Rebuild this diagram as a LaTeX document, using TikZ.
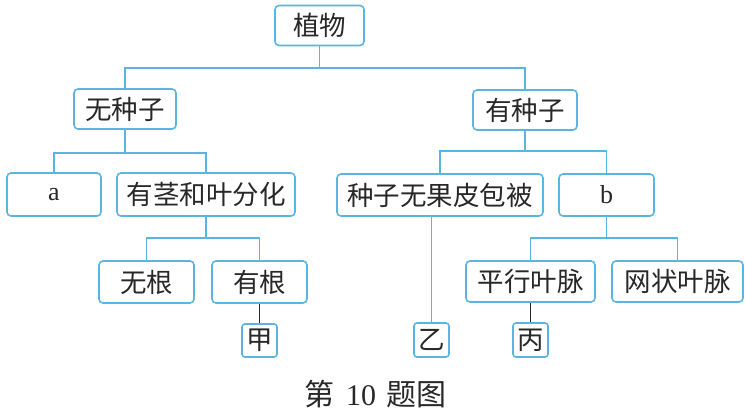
\documentclass[tikz,border=0pt]{standalone}
\usepackage{fontspec}
\setmainfont{Liberation Serif}
\newfontfamily\cjk{Noto Sans CJK SC}
\definecolor{lblue}{RGB}{90,182,224}
\definecolor{ink}{RGB}{40,40,40}
\tikzset{
  box/.style={draw=lblue, line width=1.6pt, rounded corners=4pt, fill=white, text=ink,
    inner sep=0pt, font=\cjk\fontsize{26.5}{28}\selectfont},
  latin/.style={font=\rmfamily\fontsize{26}{28}\selectfont},
  conn/.style={draw=lblue, line width=1.6pt},
  darkconn/.style={draw=ink, line width=1.3pt},
}
\begin{document}
\begin{tikzpicture}[x=1pt,y=-1pt]
\useasboundingbox (0,0) rectangle (746,413);
% nodes
\node[box, minimum width=89pt, minimum height=40pt] (zw) at (319.5,25.5) {植物};
\node[box, minimum width=102pt, minimum height=40pt] (wzz) at (125,109) {无种子};
\node[box, minimum width=104pt, minimum height=40pt] (yzz) at (525,110) {有种子};
\node[box, latin, minimum width=94pt, minimum height=43pt] (a) at (54,194.5) {a};
\node[box, minimum width=178pt, minimum height=43pt] (yj) at (206,194.5) {有茎和叶分化};
\node[box, minimum width=206pt, minimum height=42pt] (zz) at (440,195) {种子无果皮包被};
\node[box, latin, minimum width=95pt, minimum height=42pt] (b) at (606.5,195) {b};
\node[box, minimum width=95pt, minimum height=42pt] (wg) at (146.5,282) {无根};
\node[box, minimum width=95pt, minimum height=42pt] (yg) at (259.5,282) {有根};
\node[box, minimum width=129pt, minimum height=41pt] (px) at (530.5,281.5) {平行叶脉};
\node[box, minimum width=131pt, minimum height=41pt] (wx) at (677.5,281.5) {网状叶脉};
\node[box, minimum width=35pt, minimum height=33pt, rounded corners=3pt] (jia) at (259.5,340.5) {甲};
\node[box, minimum width=35pt, minimum height=34pt, rounded corners=3pt] (yi) at (431.5,340) {乙};
\node[box, minimum width=35pt, minimum height=34pt, rounded corners=3pt] (bing) at (530.5,340) {丙};
\node[text=ink, inner sep=0pt, font=\fontsize{30}{32}\selectfont] (cap) at (375,394) {{\cjk 第}\hspace{12pt}10\hspace{10pt}{\cjk 题图}};
% connectors
\coordinate (l1) at (0,68);
\coordinate (l2) at (0,153);
\coordinate (l3) at (0,151);
\coordinate (l4) at (0,238);
\draw[conn] (zw.south) -- (zw.south |- l1);
\draw[conn] (wzz.north) -- (wzz.north |- l1) -- (yzz.north |- l1) -- (yzz.north);
\draw[conn] (wzz.south) -- (wzz.south |- l2);
\draw[conn] (a.north) -- (a.north |- l2) -- (yj.north |- l2) -- (yj.north);
\draw[conn] (yzz.south) -- (yzz.south |- l3);
\draw[conn] (zz.north) -- (zz.north |- l3) -- (b.north |- l3) -- (b.north);
\draw[conn] (yj.south) -- (yj.south |- l4);
\draw[conn] (wg.north) -- (wg.north |- l4) -- (yg.north |- l4) -- (yg.north);
\draw[conn] (b.south) -- (b.south |- l4);
\draw[conn] (px.north) -- (px.north |- l4) -- (wx.north |- l4) -- (wx.north);
\draw[conn] (yi.north) -- (yi.north |- zz.south);
\draw[darkconn] (yg.south) -- (jia.north);
\draw[darkconn] (px.south) -- (bing.north);
\end{tikzpicture}
\end{document}
